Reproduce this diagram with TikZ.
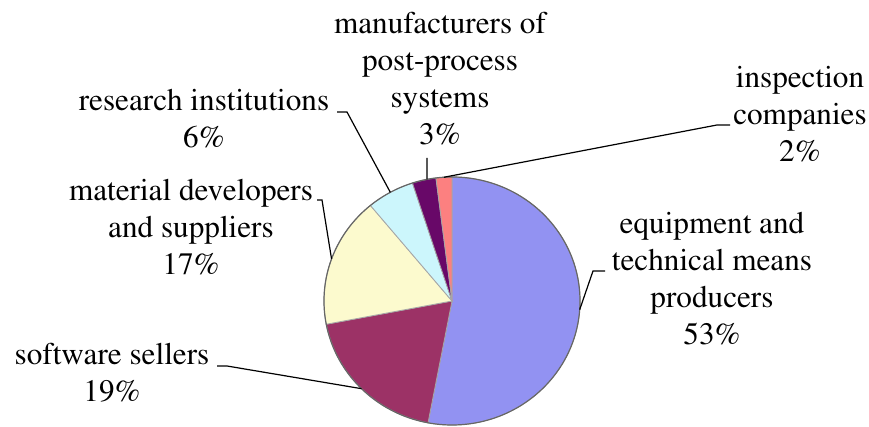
\documentclass[tikz,border=0pt]{standalone}
\usepackage[T1]{fontenc}
\usepackage{mathptmx}
\usepackage{tikz}
\usetikzlibrary{calc}
\definecolor{equipcol}{RGB}{146,146,242}
\definecolor{softcol}{RGB}{156,50,102}
\definecolor{matcol}{RGB}{252,250,206}
\definecolor{rescol}{RGB}{204,246,252}
\definecolor{mancol}{RGB}{104,8,104}
\definecolor{inspcol}{RGB}{252,128,128}
\tikzset{
  slice/.style={draw=gray!70, line width=0.4pt},
  lab/.style={align=center, inner sep=0pt, anchor=base, font=\fontsize{15.6}{18.5}\selectfont},
  leader/.style={draw=black, line width=0.6pt}
}

\begin{document}
\begin{tikzpicture}[x=0.5pt,y=0.5pt]
        \useasboundingbox (0,0) rectangle (869,427);
        \coordinate (ctr) at (452,126);
        \filldraw[slice, fill=equipcol] (ctr) -- ++(90:128 and 124) arc[start angle=90, end angle=-100.8, x radius=128, y radius=124] -- cycle;
        \filldraw[slice, fill=softcol] (ctr) -- ++(-100.8:128 and 124) arc[start angle=-100.8, end angle=-169.2, x radius=128, y radius=124] -- cycle;
        \filldraw[slice, fill=matcol] (ctr) -- ++(-169.2:128 and 124) arc[start angle=-169.2, end angle=-230.4, x radius=128, y radius=124] -- cycle;
        \filldraw[slice, fill=rescol] (ctr) -- ++(129.6:128 and 124) arc[start angle=129.6, end angle=108, x radius=128, y radius=124] -- cycle;
        \filldraw[slice, fill=mancol] (ctr) -- ++(108:128 and 124) arc[start angle=108, end angle=97.2, x radius=128, y radius=124] -- cycle;
        \filldraw[slice, fill=inspcol] (ctr) -- ++(97.2:128 and 124) arc[start angle=97.2, end angle=90, x radius=128, y radius=124] -- cycle;
        \draw[gray!80!black, line width=0.6pt] (ctr) ellipse[x radius=128, y radius=124];
        \node[lab] (resLab) at (204,279) {research institutions\\6\%};
        \node[lab] (matLab) at (191,152) {material developers\\and suppliers\\17\%};
        \node[lab] (softLab) at (112,25) {software sellers\\19\%};
        \node[lab] (manLab) at (440,282) {manufacturers of\\post-process\\systems\\3\%};
        \node[lab] (inspLab) at (800,265) {inspection\\companies\\2\%};
        \node[lab] (equipLab) at (712,82) {equipment and\\technical means\\producers\\53\%};
        \coordinate (resEnd) at (337,315);
        \coordinate (matEnd) at (317,227);
        \coordinate (softEnd) at (217,61);
        \coordinate (manEnd) at (427,269);
        \coordinate (inspEnd) at (730,302);
        \coordinate (equipEnd) at (605,156);
        \coordinate (resEdge) at ($(ctr)+(118.8:128 and 124)$);
        \coordinate (matEdge) at ($(ctr)+(160.2:128 and 124)$);
        \coordinate (softEdge) at ($(ctr)+(-135:128 and 124)$);
        \coordinate (manEdge) at ($(ctr)+(101.3:128 and 124)$);
        \coordinate (inspEdge) at ($(ctr)+(93.6:128 and 124)$);
        \coordinate (equipEdge) at ($(ctr)+(-4:128 and 124)$);
        \draw[leader] (resEnd) -- ++(10,0) -- (resEdge);
        \draw[leader] (matEnd) -- ++(5,0) -- (matEdge);
        \draw[leader] (softEnd) -- ++(10,0) -- (softEdge);
        \draw[leader] (manEnd) -- (manEdge);
        \draw[leader] (inspEnd) -- ++(-13,0) -- (inspEdge);
        \draw[leader] (equipEnd) -- ++(-12,0) -- (equipEdge);
    \end{tikzpicture}
\end{document}
